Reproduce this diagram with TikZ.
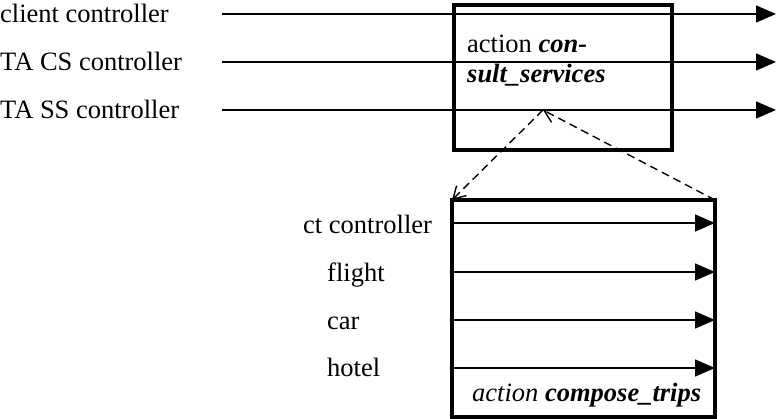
\documentclass[tikz,border=0pt]{standalone}
\usepackage{fontspec}
\setmainfont{Liberation Serif}
\usetikzlibrary{arrows.meta}
\begin{document}
\begin{tikzpicture}[x=1pt,y=-1pt,
  lbl/.style={anchor=base west,inner sep=0pt,font=\fontsize{26.5}{33}\selectfont},
  sig/.style={line width=1.4pt,-{Triangle[length=20pt,width=17pt]}},
  actbox/.style={draw,line width=3.5pt},
  dep/.style={line width=1.4pt,dash pattern=on 8pt off 5pt,-{Straight Barb[length=12pt,width=14pt,line width=1.4pt]}}]
\useasboundingbox (0,0) rectangle (779,419);
% top action box
\draw[actbox] (454,5) rectangle (672,150);
\node[lbl] (act1a) at (467,53) {action \textbf{\textit{con-}}};
\node[lbl] (act1b) at (467,83) {\textbf{\textit{sult\_services}}};
% left labels and signals
\node[lbl] (l1) at (0,23) {client controller};
\node[lbl] (l2) at (0,71) {TA CS controller};
\node[lbl] (l3) at (0,119) {TA SS controller};
\coordinate (s1) at (222,14); \coordinate (e1) at (776,14);
\coordinate (s2) at (222,62); \coordinate (e2) at (776,62);
\coordinate (s3) at (222,110); \coordinate (e3) at (776,110);
\draw[sig] (s1) -- (e1);
\draw[sig] (s2) -- (e2);
\draw[sig] (s3) -- (e3);
% bottom action box
\draw[actbox] (452,200) rectangle (715,417);
\coordinate (botTL) at (452,200);
\coordinate (botTR) at (715,200);
\coordinate (hook) at (543,110);
\node[lbl] (b1) at (303,234) {ct controller};
\node[lbl] (b2) at (327,282) {flight};
\node[lbl] (b3) at (327,330) {car};
\node[lbl] (b4) at (327,377) {hotel};
\node[lbl] (act2) at (472,402) {\textit{action} \textbf{\textit{compose\_trips}}};
\coordinate (t1) at (452,223); \coordinate (u1) at (715,223);
\coordinate (t2) at (452,272); \coordinate (u2) at (715,272);
\coordinate (t3) at (452,320); \coordinate (u3) at (715,320);
\coordinate (t4) at (452,368); \coordinate (u4) at (715,368);
\draw[sig] (t1) -- (u1);
\draw[sig] (t2) -- (u2);
\draw[sig] (t3) -- (u3);
\draw[sig] (t4) -- (u4);
% dependency arrows
\draw[dep] (botTR) -- (hook);
\draw[dep] (hook) -- (botTL);
\end{tikzpicture}
\end{document}
